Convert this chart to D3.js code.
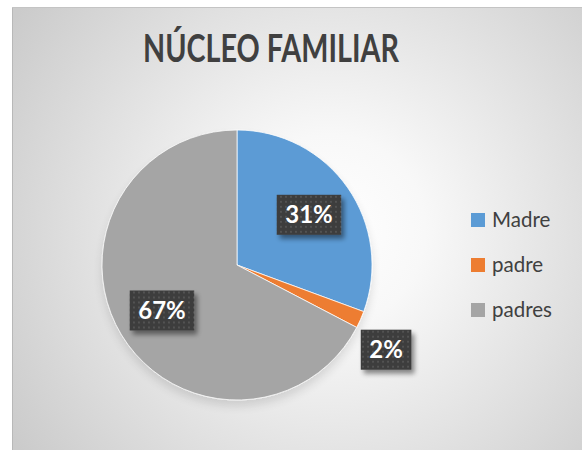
<!DOCTYPE html>
<html>
<head>
<meta charset="utf-8">
<script src="https://cdn.jsdelivr.net/npm/d3@7"></script>
<style>
  body { margin: 0; background: #fff; }
  svg { display: block; }
</style>
</head>
<body>
<div id="chart"></div>
<script>
var categories = ["Madre", "padre", "padres"];
var values = [15, 1, 33];
var colors = ["#5b9bd5", "#ed7d31", "#a5a5a5"];
var title = "NÚCLEO FAMILIAR";

var width = 582, height = 450;
var frame = {left: 12, top: 7};
var cx = 237, cy = 265, radius = 135;

var svg = d3.select("#chart")
    .append("svg")
    .attr("width", width)
    .attr("height", height);

var defs = svg.append("defs");

// background gradient
var grad = defs.append("radialGradient")
    .attr("id", "bg")
    .attr("gradientUnits", "userSpaceOnUse")
    .attr("cx", 330).attr("cy", 230).attr("r", 380);
grad.append("stop").attr("offset", "0%").attr("stop-color", "#ffffff");
grad.append("stop").attr("offset", "25%").attr("stop-color", "#f8f8f8");
grad.append("stop").attr("offset", "100%").attr("stop-color", "#cbcbcb");

// dotted label fill
var pat = defs.append("pattern")
    .attr("id", "dots")
    .attr("patternUnits", "userSpaceOnUse")
    .attr("width", 5).attr("height", 5);
pat.append("rect").attr("width", 5).attr("height", 5).attr("fill", "#3d3d3d");
pat.append("rect").attr("x", 1).attr("y", 1).attr("width", 2).attr("height", 2).attr("fill", "#525252");

var shadow = defs.append("filter").attr("id", "shadow")
    .attr("x", "-30%").attr("y", "-30%").attr("width", "160%").attr("height", "170%");
shadow.append("feGaussianBlur").attr("in", "SourceAlpha").attr("stdDeviation", 2.5);
shadow.append("feOffset").attr("dx", 3).attr("dy", 4).attr("result", "off");
shadow.append("feComponentTransfer").append("feFuncA").attr("type", "linear").attr("slope", 0.45);
var merge = shadow.append("feMerge");
merge.append("feMergeNode");
merge.append("feMergeNode").attr("in", "SourceGraphic");

var pieShadow = defs.append("filter").attr("id", "pieShadow")
    .attr("x", "-20%").attr("y", "-20%").attr("width", "140%").attr("height", "150%");
pieShadow.append("feGaussianBlur").attr("in", "SourceAlpha").attr("stdDeviation", 5);
pieShadow.append("feOffset").attr("dx", 0).attr("dy", 6).attr("result", "off");
pieShadow.append("feComponentTransfer").append("feFuncA").attr("type", "linear").attr("slope", 0.12);
var merge2 = pieShadow.append("feMerge");
merge2.append("feMergeNode");
merge2.append("feMergeNode").attr("in", "SourceGraphic");

svg.append("rect")
    .attr("x", frame.left).attr("y", frame.top)
    .attr("width", width - frame.left).attr("height", height - frame.top)
    .attr("fill", "url(#bg)");

svg.append("line")
    .attr("x1", frame.left + 0.5).attr("y1", frame.top)
    .attr("x2", frame.left + 0.5).attr("y2", height)
    .attr("stroke", "#b8b8b8");
svg.append("line")
    .attr("x1", frame.left).attr("y1", frame.top + 0.5)
    .attr("x2", width).attr("y2", frame.top + 0.5)
    .attr("stroke", "#c4c4c4");

// title
svg.append("text")
    .attr("x", 271)
    .attr("y", 62)
    .attr("text-anchor", "middle")
    .attr("font-family", "Lato, 'Open Sans', sans-serif")
    .attr("font-weight", "bold")
    .attr("font-size", 38)
    .attr("fill", "#404040")
    .attr("textLength", 256)
    .attr("lengthAdjust", "spacingAndGlyphs")
    .text(title);

// pie
var total = d3.sum(values);
var pie = d3.pie().sort(null).value(function (d) { return d; });
var arcs = pie(values);
var arc = d3.arc().innerRadius(0).outerRadius(radius);

var g = svg.append("g")
    .attr("transform", "translate(" + cx + "," + cy + ")");

g.append("g")
    .attr("filter", "url(#pieShadow)")
    .selectAll("path")
    .data(arcs)
    .join("path")
    .attr("d", arc)
    .attr("fill", function (d, i) { return colors[i]; })
    .attr("stroke", "#ffffff")
    .attr("stroke-width", 0.75);

// labels: inside for big slices, outside for small ones
var inner = d3.arc().innerRadius(radius * 0.65).outerRadius(radius * 0.65);

var labels = g.selectAll("g.label")
    .data(arcs)
    .join("g")
    .attr("class", "label")
    .attr("transform", function (d) {
        var p;
        if (d.data / total < 0.05) {
            var a = (d.startAngle + d.endAngle) / 2 + 0.1;
            p = [Math.sin(a) * radius * 1.27, -Math.cos(a) * radius * 1.27];
        } else {
            p = inner.centroid(d);
        }
        return "translate(" + p[0] + "," + p[1] + ")";
    });

labels.each(function (d) {
    var sel = d3.select(this);
    var txt = Math.round(d.data / total * 100) + "%";
    var box = sel.append("rect").attr("filter", "url(#shadow)").attr("fill", "url(#dots)");
    var t = sel.append("text")
        .attr("text-anchor", "middle")
        .attr("dy", "0.36em")
        .attr("font-family", "Lato, 'Open Sans', sans-serif")
        .attr("font-weight", "bold")
        .attr("font-size", 24)
        .attr("fill", "#ffffff")
        .text(txt);
    var w = t.node().getComputedTextLength() + 17;
    box.attr("x", -w / 2).attr("y", -20).attr("width", w).attr("height", 40);
});

// legend
var legend = svg.append("g")
    .attr("transform", "translate(471,220)");

var items = legend.selectAll("g")
    .data(categories)
    .join("g")
    .attr("transform", function (d, i) { return "translate(0," + (i * 45) + ")"; });

items.append("rect")
    .attr("x", 0).attr("y", -7)
    .attr("width", 14).attr("height", 14)
    .attr("fill", function (d, i) { return colors[i]; });

items.append("text")
    .attr("x", 21)
    .attr("dy", "0.35em")
    .attr("font-family", "Lato, 'Open Sans', sans-serif")
    .attr("font-size", 20.5)
    .attr("fill", "#404040")
    .text(function (d) { return d; });
</script>
</body>
</html>
